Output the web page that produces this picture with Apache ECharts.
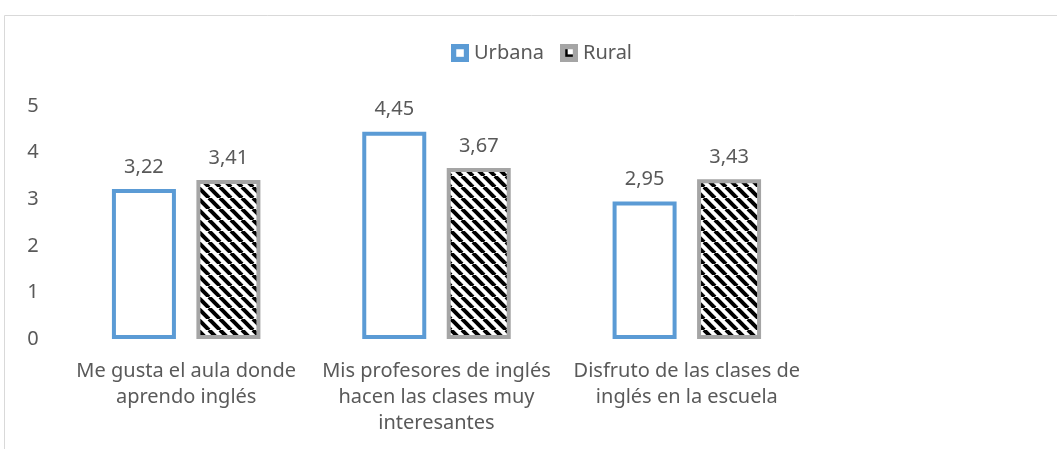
<!DOCTYPE html>
<html>
<head>
<meta charset="utf-8">
<script src="https://cdn.jsdelivr.net/npm/echarts@6/dist/echarts.min.js"></script>
<style>
  html, body { margin: 0; padding: 0; background: #fff; }
  #chart { width: 1057px; height: 449px; }
</style>
</head>
<body>
<div id="chart"></div>
<script>
// datos del gráfico
var categorias = [
  'Me gusta el aula donde\naprendo inglés',
  'Mis profesores de inglés\nhacen las clases muy\ninteresantes',
  'Disfruto de las clases de\ninglés en la escuela'
];
var urbana = [3.22, 4.45, 2.95];
var rural = [3.41, 3.67, 3.43];
var ticksY = [0, 1, 2, 3, 4, 5];

// trama rayada para la serie Rural
function crearTrama() {
  var n = 11;
  var c = document.createElement('canvas');
  c.width = n;
  c.height = n;
  var ctx = c.getContext('2d');
  ctx.fillStyle = '#ffffff';
  ctx.fillRect(0, 0, n, n);
  ctx.strokeStyle = '#000000';
  ctx.lineWidth = 4;
  for (var k = -n; k <= n; k += n) {
    ctx.beginPath();
    ctx.moveTo(k, 0);
    ctx.lineTo(k + n, n);
    ctx.stroke();
  }
  return c;
}

// icono de la leyenda: marco grueso con el relleno en el centro
function iconoLeyenda(borde, relleno) {
  var c = document.createElement('canvas');
  c.width = 14;
  c.height = 14;
  var ctx = c.getContext('2d');
  ctx.fillStyle = borde;
  ctx.fillRect(0, 0, 14, 14);
  ctx.fillStyle = relleno;
  ctx.fillRect(4, 4, 6, 6);
  if (relleno !== '#ffffff') {
    ctx.fillStyle = '#ffffff';
    ctx.fillRect(6, 4, 4, 4);
  }
  return 'image://' + c.toDataURL();
}

function comaDecimal(p) {
  return p.value.toFixed(2).replace('.', ',');
}

function GraficoBarras(elementId) {
  var myChart = echarts.init(document.getElementById(elementId));
  var fuente = 'Noto Sans';
  var gris = '#595959';
  var trama = crearTrama();

  var etiqueta = {
    show: true,
    position: 'top',
    distance: 12,
    color: gris,
    fontSize: 20,
    fontFamily: fuente,
    formatter: comaDecimal
  };

  var option = {
    animation: false,
    textStyle: { fontFamily: fuente },
    graphic: [{
      type: 'rect',
      shape: { x: 4.5, y: 15.5, width: 1100, height: 500 },
      style: { fill: 'none', stroke: '#d9d9d9', lineWidth: 1 },
      silent: true
    }],
    legend: {
      top: 43,
      left: 451,
      padding: 0,
      itemWidth: 18,
      itemHeight: 18,
      itemGap: 16,
      textStyle: { color: gris, fontSize: 20, fontFamily: fuente, padding: [0, 0, 0, 0] },
      data: [
        { name: 'Urbana', icon: iconoLeyenda('#5b9bd5', '#ffffff') },
        { name: 'Rural', icon: iconoLeyenda('#a5a5a5', '#000000') }
      ]
    },
    grid: { left: 61, right: 245, top: 106, bottom: 110, containLabel: false },
    xAxis: {
      type: 'category',
      data: categorias,
      axisLine: { show: false },
      axisTick: { show: false },
      axisLabel: {
        color: gris,
        fontSize: 20,
        fontFamily: fuente,
        lineHeight: 26,
        margin: 19,
        interval: 0
      }
    },
    yAxis: {
      type: 'value',
      min: ticksY[0],
      max: ticksY[ticksY.length - 1],
      interval: 1,
      splitLine: { show: false },
      axisLine: { show: false },
      axisTick: { show: false },
      axisLabel: { color: gris, fontSize: 20, fontFamily: fuente, margin: 28, align: 'center' }
    },
    series: [
      {
        name: 'Urbana',
        type: 'bar',
        data: urbana,
        barWidth: 64,
        barGap: '32%',
        itemStyle: { color: '#ffffff', borderColor: '#5b9bd5', borderWidth: 4 },
        label: etiqueta
      },
      {
        name: 'Rural',
        type: 'bar',
        data: rural,
        barWidth: 64,
        itemStyle: {
          color: { image: trama, repeat: 'repeat' },
          borderColor: '#a5a5a5',
          borderWidth: 4
        },
        label: etiqueta
      }
    ]
  };
  myChart.setOption(option);
  return myChart;
}

GraficoBarras('chart');
</script>
</body>
</html>
